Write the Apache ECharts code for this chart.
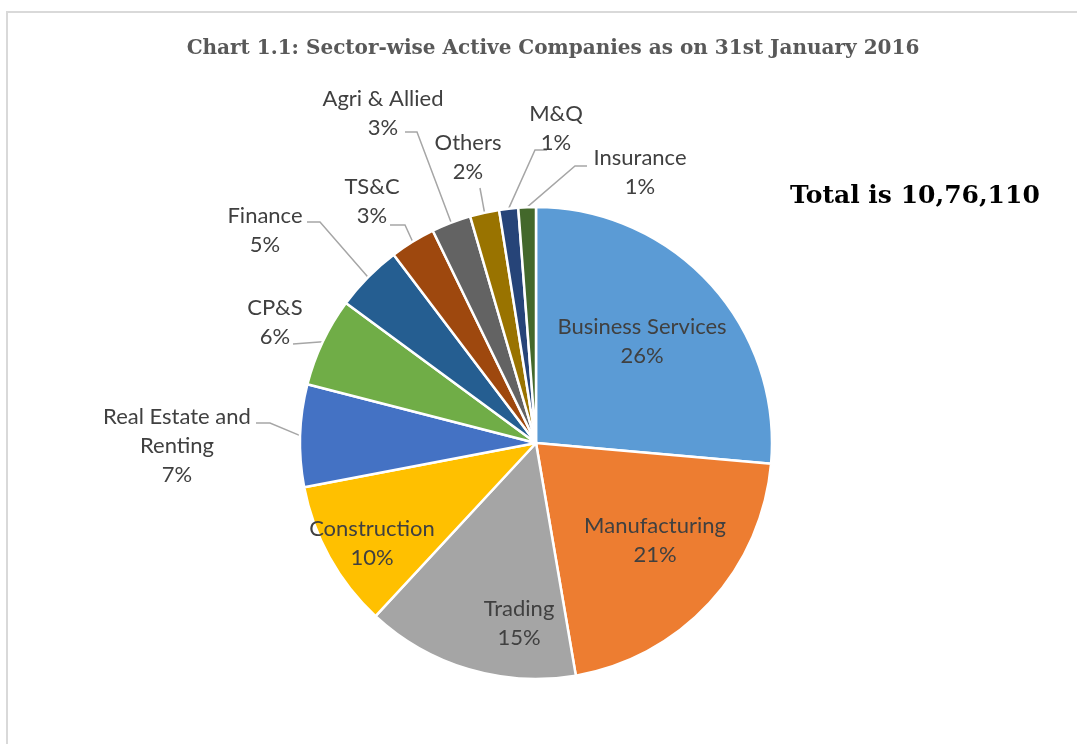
<!DOCTYPE html>
<html>
<head>
<meta charset="utf-8">
<title>Sector-wise Active Companies</title>
<style>
  html, body { margin: 0; padding: 0; background: #fff; }
  #chart { width: 1077px; height: 744px; }
</style>
<script src="https://cdn.jsdelivr.net/npm/echarts@6/dist/echarts.min.js"></script>
</head>
<body>
<div id="chart"></div>
<script>
// data (share of active companies, %)
const sectors = ['Business Services', 'Manufacturing', 'Trading', 'Construction',
  'Real Estate and Renting', 'CP&S', 'Finance', 'TS&C', 'Agri & Allied', 'Others', 'M&Q', 'Insurance'];
const shares = [26.4, 20.9, 14.6, 10.1, 7.0, 6.1, 4.6, 3.1, 2.7, 2.0, 1.3, 1.2];
const colors = ['#5B9BD5', '#ED7D31', '#A5A5A5', '#FFC000', '#4472C4', '#70AD47',
  '#255E91', '#9E480E', '#636363', '#997300', '#264478', '#43682B'];
const titleText = 'Chart 1.1: Sector-wise Active Companies as on 31st January 2016';
const totalText = 'Total is 10,76,110';

// first four labels sit inside their slice, the rest go outside with a leader line
const insideCount = 4;
// label block centres, like Excel placed them
const labelAt = [[642, 341], [655, 540], [519, 623], [372, 543], [177, 446], [275, 322],
  [265, 230], [372, 201], [383, 113], [468, 157], [556, 128], [640, 172]];
// leader line points on the label side (label end first, then the bend)
const leaders = [null, null, null, null,
  [[256, 423], [270, 423]], [[293, 344]], [[307, 222], [320, 222]], [[390, 225], [405, 225]],
  [[405, 132], [417, 132]], [[480, 188]], [[547, 150], [535, 150]], [[587, 166], [575, 166]]];

const center = [536, 443];
const radius = 236;
const total = shares.reduce((a, b) => a + b, 0);

// mid point of a slice's outer edge, used if echarts gives no line start
function edgePoint(i) {
  let before = 0;
  for (let k = 0; k < i; k++) before += shares[k];
  const a = (before + shares[i] / 2) / total * Math.PI * 2;
  return [center[0] + radius * Math.sin(a), center[1] - radius * Math.cos(a)];
}

const chart = echarts.init(document.getElementById('chart'), null, { renderer: 'canvas' });

const option = {
  animation: false,
  color: colors,
  title: {
    text: titleText,
    left: 548,
    top: 34,
    textAlign: 'center',
    textStyle: { fontFamily: 'DejaVu Serif', fontWeight: 'bold', fontSize: 20, color: '#595959' }
  },
  graphic: [
    {
      type: 'rect',
      shape: { x: 7, y: 12, width: 1100, height: 800 },
      style: { fill: 'none', stroke: '#d9d9d9', lineWidth: 2 },
      silent: true
    },
    {
      type: 'text',
      left: 790,
      top: 184,
      style: { text: totalText, fontFamily: 'DejaVu Serif', fontWeight: 'bold', fontSize: 25, fill: '#000' }
    }
  ],
  series: [{
    type: 'pie',
    center: center,
    radius: radius,
    startAngle: 90,
    clockwise: true,
    percentPrecision: 0,
    avoidLabelOverlap: false,
    itemStyle: { borderColor: '#fff', borderWidth: 2.5 },
    label: {
      formatter: p => p.name.replace(' and Renting', ' and\nRenting') + '\n' + p.percent + '%',
      fontFamily: 'Lato',
      fontSize: 22,
      lineHeight: 29,
      color: '#404040'
    },
    labelLine: { lineStyle: { color: '#a6a6a6', width: 1.5 } },
    labelLayout: function (params) {
      const i = params.dataIndex;
      const res = { x: labelAt[i][0], y: labelAt[i][1], align: 'center', verticalAlign: 'middle', hideOverlap: false };
      if (leaders[i]) {
        const start = params.labelLinePoints ? params.labelLinePoints[0] : edgePoint(i);
        res.labelLinePoints = [start].concat(leaders[i].slice().reverse());
      }
      return res;
    },
    data: sectors.map((name, i) => ({
      name: name,
      value: shares[i],
      label: { position: i < insideCount ? 'inside' : 'outside' },
      labelLine: { show: i >= insideCount }
    }))
  }]
};

chart.setOption(option);
</script>
</body>
</html>
